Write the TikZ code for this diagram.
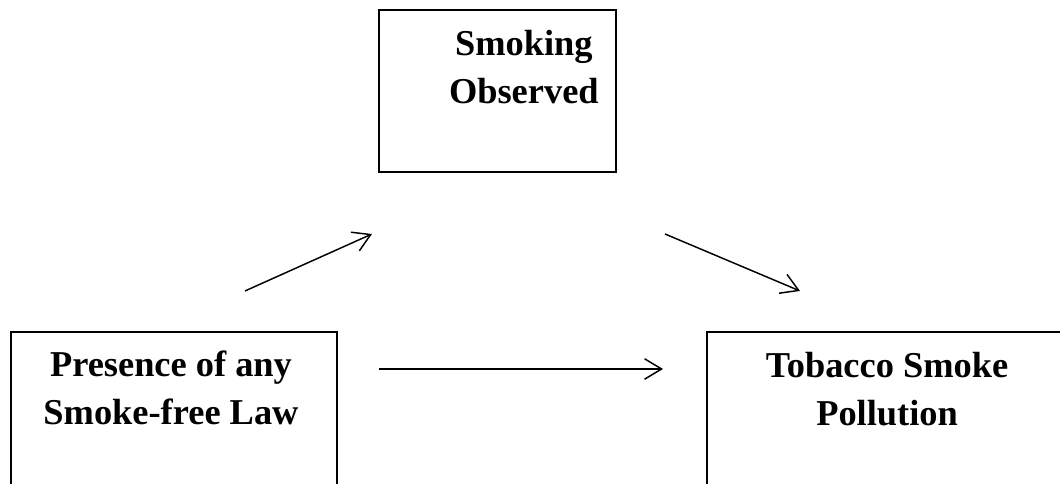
\documentclass[tikz,border=0pt]{standalone}
\usepackage{fontspec}
\setmainfont{Liberation Serif}
\usetikzlibrary{positioning, arrows.meta}

\begin{document}
\begin{tikzpicture}[
    factor/.style={rectangle, draw=black, line width=1.5pt, inner sep=0pt, minimum height=4.286cm},
    caption/.style={inner sep=0pt, anchor=north, align=center, font=\fontsize{27.4}{36}\selectfont\bfseries},
    link/.style={-{Straight Barb[length=4.5mm, width=5.4mm]}, line width=1.1pt}
]
\useasboundingbox (0,0) rectangle (28.046,-12.806);

% Boxes
\node[factor, minimum width=6.27cm] (smoking) at (13.163,-2.408) {};
\node[factor, minimum width=8.625cm] (law) at (4.604,-10.927) {};
\node[factor, minimum width=9.525cm] (pollution) at (23.469,-10.927) {};

% Texts
\node[caption] (smokingtext) at (13.86,-0.794) {Smoking\\Observed};
\node[caption] (lawtext) at (4.524,-9.287) {Presence of any\\Smoke-free Law};
\node[caption] (pollutiontext) at (23.47,-9.313) {Tobacco Smoke\\Pollution};

% Arrow ends
\coordinate (a1s) at (6.482,-7.699);
\coordinate (a1e) at (9.842,-6.191);
\coordinate (a2s) at (17.595,-6.191);
\coordinate (a2e) at (21.167,-7.699);
\coordinate (a3s) at (10.028,-9.763);
\coordinate (a3e) at (17.542,-9.763);

% Arrows
\draw[link] (a1s) -- (a1e);
\draw[link] (a2s) -- (a2e);
\draw[link] (a3s) -- (a3e);
\end{tikzpicture}
\end{document}
